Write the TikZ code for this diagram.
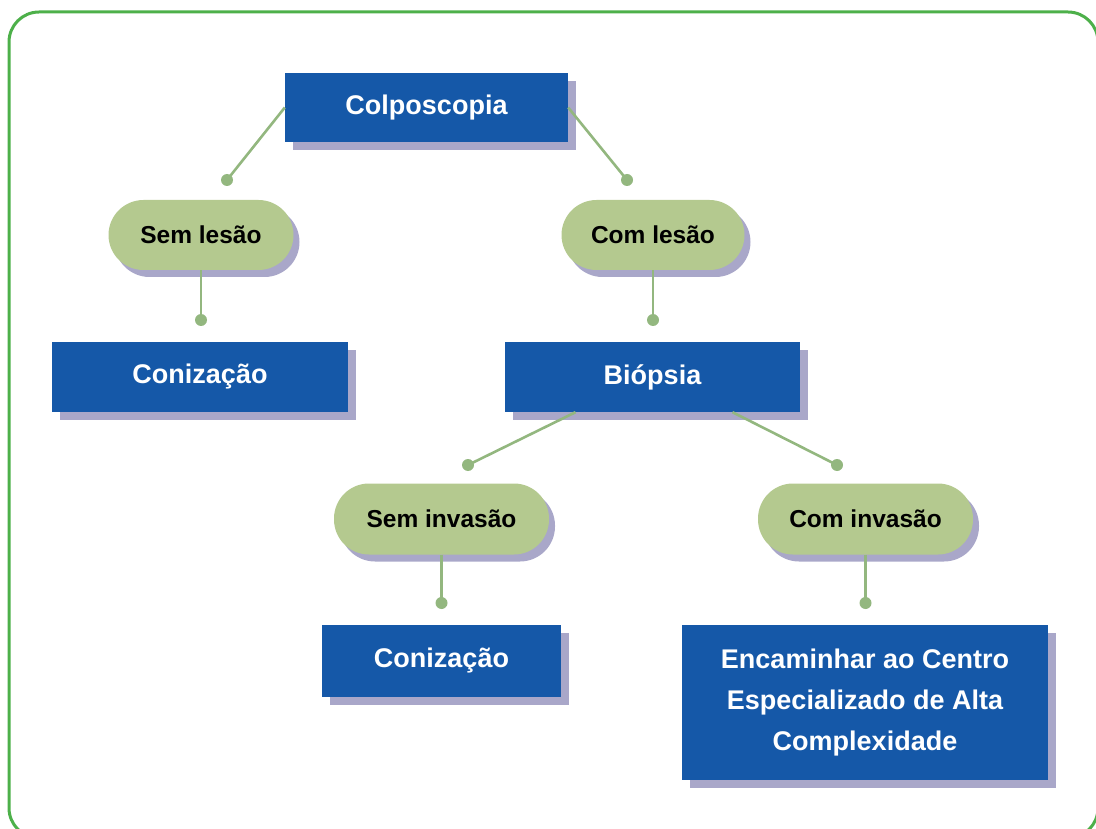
\documentclass[tikz,border=0pt]{standalone}
\usepackage{fontspec}
\setmainfont{Liberation Sans}
\usetikzlibrary{shadows}
\definecolor{boxblue}{HTML}{1558A8}
\definecolor{shadowc}{HTML}{A9A7C9}
\definecolor{pillgreen}{HTML}{B4C98F}
\definecolor{linegreen}{HTML}{93B77F}
\definecolor{framegreen}{HTML}{4DB04A}
\tikzset{
  bluebox/.style={rectangle, fill=boxblue, text=white, font=\fontsize{27}{41}\selectfont\bfseries,
    align=center, inner sep=0pt,
    copy shadow={shadow xshift=8pt, shadow yshift=-8pt, fill=shadowc, draw=none}},
  pill/.style={rectangle, rounded corners=35pt, fill=pillgreen, text=black,
    font=\fontsize{24.5}{28}\selectfont\bfseries, inner sep=0pt,
    copy shadow={shadow xshift=6pt, shadow yshift=-7pt, fill=shadowc, draw=none}},
  dotn/.style={circle, fill=linegreen, minimum size=12pt, inner sep=0pt},
  conn/.style={draw=linegreen, line width=2.6pt}
}
\begin{document}
\begin{tikzpicture}[x=1pt,y=-1pt]
\useasboundingbox (0,0) rectangle (1096,829);
\draw[framegreen, line width=3pt, rounded corners=30pt] (9,12) rectangle (1098,838);

% dots
\node[dotn] (d1) at (227,180) {};
\node[dotn] (d2) at (627,180) {};
\node[dotn] (d3) at (201,320) {};
\node[dotn] (d4) at (653,320) {};
\node[dotn] (d5) at (468,465) {};
\node[dotn] (d6) at (837,465) {};
\node[dotn] (d7) at (441.5,603) {};
\node[dotn] (d8) at (865.5,603) {};

% boxes
\node[bluebox, minimum width=283pt, minimum height=69pt] (colpo) at (426.5,107.5) {Colposcopia};
\node[pill, minimum width=185pt, minimum height=70pt] (seml) at (201,235) {Sem lesão};
\node[pill, minimum width=183pt, minimum height=70pt] (coml) at (653,235) {Com lesão};
\node[bluebox, minimum width=296pt, minimum height=70pt] (coni1) at (200,377) {Conização};
\node[bluebox, minimum width=295pt, minimum height=70pt] (biop) at (652.5,377) {Biópsia};
\node[pill, minimum width=215pt, minimum height=71pt] (semi) at (441.5,519) {Sem invasão};
\node[pill, minimum width=215pt, minimum height=71pt] (comi) at (865.5,519) {Com invasão};
\node[bluebox, minimum width=239pt, minimum height=72pt] (coni2) at (441.5,661) {Conização};
\node[bluebox, minimum width=366pt, minimum height=155pt] (enc) at (865,702.5) {Encaminhar ao Centro\\Especializado de Alta\\Complexidade};

% connectors
\draw[conn] (colpo.west) -- (d1.center);
\draw[conn] (colpo.east) -- (d2.center);
\draw[conn] (seml.south) -- (d3.center);
\draw[conn] (coml.south) -- (d4.center);
\draw[conn] ([xshift=-77pt]biop.south) -- (d5.center);
\draw[conn] ([xshift=80pt]biop.south) -- (d6.center);
\draw[conn] (semi.south) -- (d7.center);
\draw[conn] (comi.south) -- (d8.center);
\end{tikzpicture}
\end{document}
